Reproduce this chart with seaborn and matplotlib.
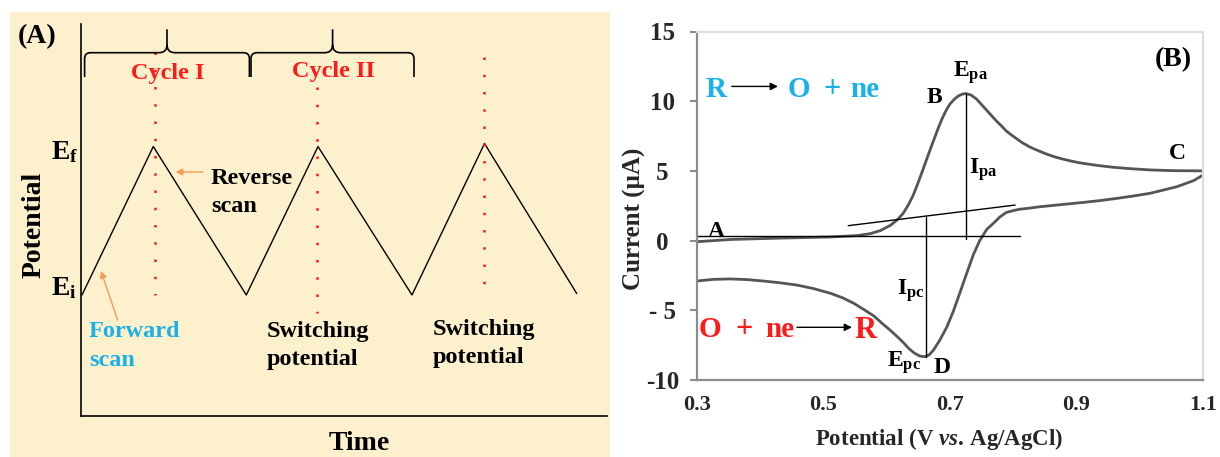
import numpy as np
import pandas as pd
import matplotlib
matplotlib.use("Agg")
import matplotlib.pyplot as plt
import seaborn as sns
from matplotlib.patches import Rectangle, PathPatch, FancyArrowPatch
from matplotlib.path import Path

# ---------------- data ----------------
# Panel A: triangular potential waveform (time in arbitrary units, potential: Ei=0, Ef=1)
time = [0.0, 0.713, 1.643, 2.36, 3.30, 4.025, 4.947]
potential = [0.0, 1.0, 0.0, 1.0, 0.0, 1.02, 0.01]
switch_times = [0.732, 2.35, 4.025]
switch_top = [1.636, 1.40, 1.60]
switch_bottom = [0.0, -0.121, -0.02]

# Panel B: cyclic voltammogram (V vs Ag/AgCl, µA)
fwd_E = [0.300, 0.353, 0.432, 0.511, 0.553, 0.574, 0.590, 0.606, 0.618, 0.626,
         0.634, 0.642, 0.650, 0.658, 0.666, 0.673, 0.680, 0.687, 0.694, 0.700,
         0.707, 0.713, 0.719, 0.725, 0.733, 0.742, 0.750, 0.758, 0.766, 0.774,
         0.782, 0.789, 0.797, 0.805, 0.815, 0.826, 0.840, 0.853, 0.866, 0.879,
         0.892, 0.905, 0.932, 0.958, 0.985, 1.016, 1.050, 1.100]
fwd_I = [-0.08, 0.08, 0.18, 0.26, 0.36, 0.50, 0.72, 1.10, 1.55, 1.96,
         2.55, 3.27, 4.20, 5.19, 6.20, 7.05, 7.90, 8.70, 9.35, 9.80,
         10.15, 10.37, 10.50, 10.55, 10.45, 10.15, 9.75, 9.35, 8.95, 8.55,
         8.20, 7.86, 7.58, 7.32, 7.00, 6.72, 6.44, 6.20, 6.00, 5.84,
         5.70, 5.58, 5.40, 5.26, 5.16, 5.07, 5.02, 5.00]
rev_E = [1.100, 1.085, 1.059, 1.035, 1.016, 0.990, 0.964, 0.937, 0.911, 0.884,
         0.858, 0.840, 0.826, 0.810, 0.800, 0.789, 0.779, 0.770, 0.758, 0.747,
         0.737, 0.726, 0.716, 0.705, 0.695, 0.684, 0.674, 0.667, 0.660, 0.652,
         0.643, 0.634, 0.627, 0.618, 0.606, 0.593, 0.580, 0.564, 0.548, 0.530,
         0.511, 0.485, 0.458, 0.430, 0.405, 0.380, 0.353, 0.326, 0.300]
rev_I = [4.70, 4.30, 3.87, 3.60, 3.39, 3.20, 3.03, 2.87, 2.74, 2.62,
         2.50, 2.42, 2.33, 2.25, 2.15, 2.02, 1.70, 1.30, 0.80, 0.00,
         -1.00, -2.40, -3.70, -5.10, -6.20, -7.13, -7.85, -8.20, -8.33, -8.28,
         -8.05, -7.70, -7.35, -6.95, -6.45, -5.95, -5.42, -4.95, -4.50, -4.10,
         -3.78, -3.45, -3.19, -3.02, -2.90, -2.80, -2.75, -2.78, -2.90]

baseline_E = [0.30, 0.811]
baseline_I = [0.33, 0.33]
tangent_E = [0.539, 0.803]
tangent_I = [1.07, 2.55]
ipa_E = [0.725, 0.725]
ipa_I = [0.12, 10.55]
ipc_E = [0.662, 0.662]
ipc_I = [1.72, -8.33]

x_ticks = [0.3, 0.5, 0.7, 0.9, 1.1]
x_ticklabels = ["0.3", "0.5", "0.7", "0.9", "1.1"]
y_ticks = [-10, -5, 0, 5, 10, 15]
y_ticklabels = ["-10", "- 5", "0", "5", "10", "15"]

# ---------------- style ----------------
sns.set_style("white")
plt.rcParams["font.family"] = ["Liberation Serif", "DejaVu Sans"]
plt.rcParams["font.weight"] = "bold"
plt.rcParams["mathtext.fontset"] = "custom"
plt.rcParams["mathtext.rm"] = "Liberation Serif:bold"
plt.rcParams["mathtext.bf"] = "Liberation Serif:bold"
plt.rcParams["mathtext.it"] = "Liberation Serif:italic:bold"

W, H = 1220, 457
fig = plt.figure(figsize=(W / 100, H / 100), dpi=100)
fig.patch.set_facecolor("white")

BEIGE = "#fdf0cc"
RED = "#ff1a1a"
BLUE = "#1ab0e8"
ORANGE = "#f39a56"


def P(x, y):
    """reference pixel (top-left origin) -> figure fraction"""
    return x / W, 1 - y / H


fig.patches.append(Rectangle(P(9.6, H), (610 - 9.6) / W, (H - 12) / H,
                             transform=fig.transFigure, facecolor=BEIGE,
                             edgecolor="none", zorder=-5))

# ---------------- Panel A ----------------
ax1 = fig.add_axes([80.7 / W, (H - 416) / H, (607 - 80.7) / W, (416 - 24) / H])
ax1.set_zorder(2)
ax1.patch.set_alpha(0)
sns.lineplot(x=time, y=potential, sort=False, estimator=None, color="black",
             linewidth=1.0, ax=ax1)
for t, top, bot in zip(switch_times, switch_top, switch_bottom):
    ax1.plot([t, t], [top, bot], color=RED, linewidth=1.8,
             linestyle=(0, (1, 5.9)))
ax1.set_xlim(-0.013, 5.25)
ax1.set_ylim(-0.815, 1.825)
ax1.set_xticks([])
ax1.set_yticks([])
for s in ["top", "right"]:
    ax1.spines[s].set_visible(False)
for s in ["left", "bottom"]:
    ax1.spines[s].set_color("black")
    ax1.spines[s].set_linewidth(1.2)
ax1.set_xlabel("")
ax1.set_ylabel("")


def brace(x0, x1, xm, ybase=52.7, yend=77, ytip=29.3, r=6, rt=8):
    pts = [(x0, yend), (x0, ybase + r), (x0, ybase), (x0 + r, ybase),
           (xm - rt, ybase), (xm, ybase), (xm, ybase - rt), (xm, ytip),
           (xm, ybase - rt), (xm, ybase), (xm + rt, ybase),
           (x1 - r, ybase), (x1, ybase), (x1, ybase + r), (x1, yend)]
    codes = [Path.MOVETO, Path.LINETO, Path.CURVE3, Path.CURVE3,
             Path.LINETO, Path.CURVE3, Path.CURVE3, Path.LINETO,
             Path.MOVETO, Path.CURVE3, Path.CURVE3,
             Path.LINETO, Path.CURVE3, Path.CURVE3, Path.LINETO]
    verts = [P(x, y) for x, y in pts]
    fig.patches.append(PathPatch(Path(verts, codes), transform=fig.transFigure,
                                 facecolor="none", edgecolor="black", lw=1.2,
                                 zorder=3))


brace(84.6, 249.4, 167)
brace(251, 414, 332.6)


def ftext(x, y, s, size=17.5, color="black", ha="left", va="baseline", **kw):
    fig.text(*P(x, y), s, fontsize=size, color=color, ha=ha, va=va,
             fontweight="bold", zorder=4, **kw)


ftext(17.5, 43, "(A)", size=20)
ftext(168, 79, "Cycle I", color=RED, ha="center")
ftext(333, 77, "Cycle II", color=RED, ha="center")
ftext(211, 184, "Reverse")
ftext(211, 211.7, "scan")
ftext(89, 337, "Forward", color=BLUE)
ftext(89, 365.7, "scan", color=BLUE)
ftext(267, 337, "Switching")
ftext(267, 365, "potential")
ftext(432.7, 335, "Switching")
ftext(432.7, 363, "potential")
ftext(359, 450, "Time", size=20, ha="center")
ftext(34, 225, "Potential", size=20, ha="center", va="center", rotation=90)
ftext(51, 159, r"$\mathbf{E}_{\mathbf{f}}$", size=20)
ftext(51, 295, r"$\mathbf{E}_{\mathbf{i}}$", size=20)


def farrow(x0, y0, x1, y1, color):
    fig.add_artist(FancyArrowPatch(
        P(x0, y0), P(x1, y1), transform=fig.transFigure,
        arrowstyle="-|>", mutation_scale=10, color=color, lw=1.0,
        shrinkA=0, shrinkB=0, zorder=4))


farrow(203, 172, 175.6, 172, ORANGE)
farrow(117.6, 320, 101, 271, ORANGE)

# ---------------- Panel B ----------------
ax2 = fig.add_axes([697 / W, (H - 380) / H, 506 / W, 348.5 / H])
cv = pd.concat([
    pd.DataFrame({"E": fwd_E, "I": fwd_I, "scan": "forward"}),
    pd.DataFrame({"E": rev_E, "I": rev_I, "scan": "reverse"}),
])
sns.lineplot(data=cv, x="E", y="I", units="scan", estimator=None, sort=False,
             color="#555555", linewidth=2.0, ax=ax2)
for ex, iy in [(baseline_E, baseline_I), (tangent_E, tangent_I),
               (ipa_E, ipa_I), (ipc_E, ipc_I)]:
    ax2.plot(ex, iy, color="black", linewidth=1.0)

ax2.set_xlim(0.3, 1.1)
ax2.set_ylim(-10, 15)
ax2.set_xticks(x_ticks)
ax2.set_xticklabels(x_ticklabels, fontsize=16, fontweight="bold")
ax2.set_yticks(y_ticks)
ax2.set_yticklabels(y_ticklabels, fontsize=18, fontweight="bold")
for lab in ax2.get_yticklabels():
    lab.set_horizontalalignment("center")
ax2.tick_params(axis="y", left=True, length=5, width=1.5, color="#8c8c8c", pad=20)
ax2.tick_params(axis="x", bottom=False, length=0, pad=11)
for s in ["left", "bottom"]:
    ax2.spines[s].set_color("#8c8c8c")
    ax2.spines[s].set_linewidth(1.6)
for s in ["top", "right"]:
    ax2.spines[s].set_color("#dddddd")
    ax2.spines[s].set_linewidth(1.6)

ax2.set_xlabel("Potential (V $\\mathit{vs.}\\,$Ag/AgCl)", fontsize=16.5,
               fontweight="bold")
ax2.xaxis.set_label_coords(0.478, -0.132)
ax2.set_ylabel("Current (µA)", fontsize=18, fontweight="bold")
ax2.yaxis.set_label_coords(-0.10, 0.462)


def dtext(x, y, s, size=17, color="black", ha="center", va="center"):
    ax2.text(x, y, s, fontsize=size, color=color, ha=ha, va=va,
             fontweight="bold")


dtext(1.053, 12.95, "(B)", size=20)
# oxidation reaction
dtext(0.330, 10.85, "R", size=21, color=BLUE)
dtext(0.461, 10.85, "O", size=21, color=BLUE)
dtext(0.513, 10.85, "+", size=22, color=BLUE)
dtext(0.566, 10.85, "ne", size=21, color=BLUE)
ax2.annotate("", xy=(0.428, 11.06), xytext=(0.355, 11.06),
             arrowprops=dict(arrowstyle="-|>", color="black", lw=1.0,
                             mutation_scale=11, shrinkA=0, shrinkB=0))
# reduction reaction
dtext(0.320, -6.35, "O", size=21, color=RED)
dtext(0.374, -6.35, "+", size=22, color=RED)
dtext(0.431, -6.35, "ne", size=21, color=RED)
dtext(0.566, -6.45, "R", size=22, color=RED)
ax2.annotate("", xy=(0.545, -6.22), xytext=(0.458, -6.22),
             arrowprops=dict(arrowstyle="-|>", color="black", lw=1.0,
                             mutation_scale=11, shrinkA=0, shrinkB=0))
# point labels
dtext(0.675, 10.3, "B")
dtext(1.059, 6.24, "C")
dtext(0.330, 0.62, "A")
dtext(0.687, -9.07, "D")
dtext(0.7055, 11.76, r"$\mathbf{E}_{\mathbf{pa}}$", ha="left", va="baseline")
dtext(0.7305, 4.83, r"$\mathbf{I}_{\mathbf{pa}}$", ha="left", va="baseline")
dtext(0.616, -3.90, r"$\mathbf{I}_{\mathbf{pc}}$", ha="left", va="baseline")
dtext(0.600, -9.05, r"$\mathbf{E}_{\mathbf{pc}}$", ha="left", va="baseline")

fig.savefig("out.png", dpi=100, facecolor=fig.get_facecolor())
